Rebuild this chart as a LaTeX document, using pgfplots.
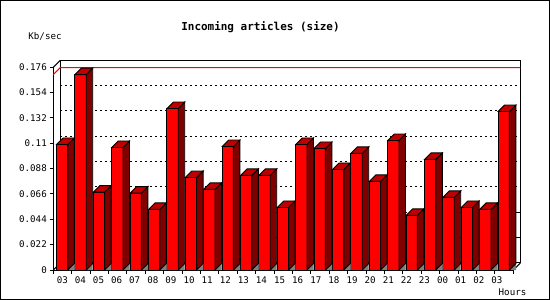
\documentclass[border=0pt]{standalone}
\usepackage{pgfplots}
\pgfplotsset{compat=1.18}
\usepackage{pgfplotstable}
\usepackage{fontspec}
\newfontfamily\gdfont{DejaVu Sans Mono}
\definecolor{barfront}{HTML}{FF0000}
\definecolor{barside}{HTML}{800000}
\definecolor{bartop}{HTML}{C00000}
\definecolor{floorgray}{HTML}{808080}
\pgfdeclareplotmark{empty}{}
\pgfplotstableread{
x v
0 0.1090
1 0.1697
2 0.0676
3 0.1064
4 0.0668
5 0.0526
6 0.1402
7 0.0803
8 0.0700
9 0.1072
10 0.0821
11 0.0821
12 0.0543
13 0.1090
14 0.1055
15 0.0873
16 0.1012
17 0.0769
18 0.1124
19 0.0474
20 0.0960
21 0.0630
22 0.0543
23 0.0526
24 0.1376
}\hourdata
\begin{document}
\begin{tikzpicture}
\useasboundingbox (0,0) rectangle (550bp,300bp);
\draw[line width=1bp] (0.5bp,0.5bp) rectangle (549.5bp,299.5bp);
\begin{axis}[
  at={(53.3bp,30bp)}, anchor=south west,
  width=460bp, height=202.7bp, scale only axis,
  xmin=-0.5, xmax=24.5, ymin=0, ymax=0.176,
  clip=false,
  axis x line*=bottom, axis y line*=left,
  axis line style={line width=1bp, black},
  tick align=outside,
  ytick={0,0.022,0.044,0.066,0.088,0.11,0.132,0.154,0.176},
  yticklabels={0,0.022,0.044,0.066,0.088,0.11,0.132,0.154,0.176},
  xtick={-0.011,0.973,1.957,2.942,3.926,4.910,5.894,6.878,7.863,8.847,9.831,10.815,11.799,12.784,13.768,14.752,15.736,16.720,17.705,18.689,19.673,20.657,21.641,22.626,23.610},
  xticklabels={03,04,05,06,07,08,09,10,11,12,13,14,15,16,17,18,19,20,21,22,23,00,01,02,03},
  major tick length=3bp,
  major x tick style={draw=none},
  minor xtick={-0.5,0.5,...,24.5},
  minor tick length=4bp,
  every tick/.style={black, line width=1bp},
  tick label style={font=\gdfont\fontsize{9.2}{11}\selectfont, text=black},
  title={Incoming articles (size)},
  every axis title/.style={font=\gdfont\bfseries\fontsize{11}{13}\selectfont, at={(axis description cs:0.4504,1.2003)}, anchor=center},
  xlabel={Hours},
  every axis x label/.style={font=\gdfont\fontsize{9.2}{11}\selectfont, at={(axis description cs:0.9983,-0.1085)}, anchor=center},
  ylabel={Kb/sec},
  every axis y label/.style={font=\gdfont\fontsize{9.2}{11}\selectfont, at={(axis description cs:-0.018,1.151)}, anchor=center},
]
% back wall
\filldraw[fill=white, draw=black, line width=1bp] ([shift={(7bp,7bp)}]axis cs:-0.5,0) rectangle ([shift={(7bp,7bp)}]axis cs:24.5,0.176);
\draw[line width=1bp] (axis cs:-0.5,0.176) -- ([shift={(7bp,7bp)}]axis cs:-0.5,0.176);
\draw[line width=1bp] (axis cs:-0.5,0) -- ([shift={(7bp,7bp)}]axis cs:-0.5,0);
\draw[line width=1bp] (axis cs:24.5,0) -- ([shift={(7bp,7bp)}]axis cs:24.5,0);
% grid on back wall
\draw[line width=1bp, dash pattern=on 2bp off 3bp] ([shift={(7bp,7bp)}]axis cs:-0.5,0.022) -- ([shift={(7bp,7bp)}]axis cs:24.5,0.022);
\draw[line width=1bp, dash pattern=on 2bp off 3bp] ([shift={(7bp,7bp)}]axis cs:-0.5,0.044) -- ([shift={(7bp,7bp)}]axis cs:24.5,0.044);
\draw[line width=1bp, dash pattern=on 2bp off 3bp] ([shift={(7bp,7bp)}]axis cs:-0.5,0.066) -- ([shift={(7bp,7bp)}]axis cs:24.5,0.066);
\draw[line width=1bp, dash pattern=on 2bp off 3bp] ([shift={(7bp,7bp)}]axis cs:-0.5,0.088) -- ([shift={(7bp,7bp)}]axis cs:24.5,0.088);
\draw[line width=1bp, dash pattern=on 2bp off 3bp] ([shift={(7bp,7bp)}]axis cs:-0.5,0.11) -- ([shift={(7bp,7bp)}]axis cs:24.5,0.11);
\draw[line width=1bp, dash pattern=on 2bp off 3bp] ([shift={(7bp,7bp)}]axis cs:-0.5,0.132) -- ([shift={(7bp,7bp)}]axis cs:24.5,0.132);
\draw[line width=1bp, dash pattern=on 2bp off 3bp] ([shift={(7bp,7bp)}]axis cs:-0.5,0.154) -- ([shift={(7bp,7bp)}]axis cs:24.5,0.154);
% right-side short ticks
\draw[line width=1bp] ([shift={(2bp,7bp)}]axis cs:24.5,0.022) -- ([shift={(7bp,7bp)}]axis cs:24.5,0.022);
\draw[line width=1bp] ([shift={(2bp,7bp)}]axis cs:24.5,0.044) -- ([shift={(7bp,7bp)}]axis cs:24.5,0.044);
% max line
\draw[red, line width=1bp] (axis cs:-0.5,0.1697) -- ([shift={(7bp,7bp)}]axis cs:-0.5,0.1697) -- ([shift={(7bp,7bp)}]axis cs:24.5,0.1697);
% bars
\addplot[ybar, bar width=11.3bp, bar shift=-0.35bp, fill=barfront, draw=black, line width=0.9bp] table[x=x,y=v]{\hourdata};
\addplot[scatter, only marks, mark=empty,
  visualization depends on={\thisrow{v}*1151.7 \as \hh},
  scatter/@pre marker code/.code={%
    \fill[floorgray] (5.3bp,-\hh bp) -- (11.8bp,{6.5bp-\hh bp}) -- (11.8bp,-\hh bp) -- cycle;
    \filldraw[fill=barside, draw=black, line width=0.9bp] (5.3bp,0bp) -- (11.8bp,6.5bp) -- (11.8bp,{6.5bp-\hh bp}) -- (5.3bp,-\hh bp) -- cycle;
    \filldraw[fill=bartop, draw=black, line width=0.9bp] (-6.0bp,0bp) -- (5.3bp,0bp) -- (11.8bp,6.5bp) -- (0.5bp,6.5bp) -- cycle;
  },
  scatter/@post marker code/.code={},
] table[x=x,y=v]{\hourdata};
\end{axis}
\end{tikzpicture}
\end{document}
